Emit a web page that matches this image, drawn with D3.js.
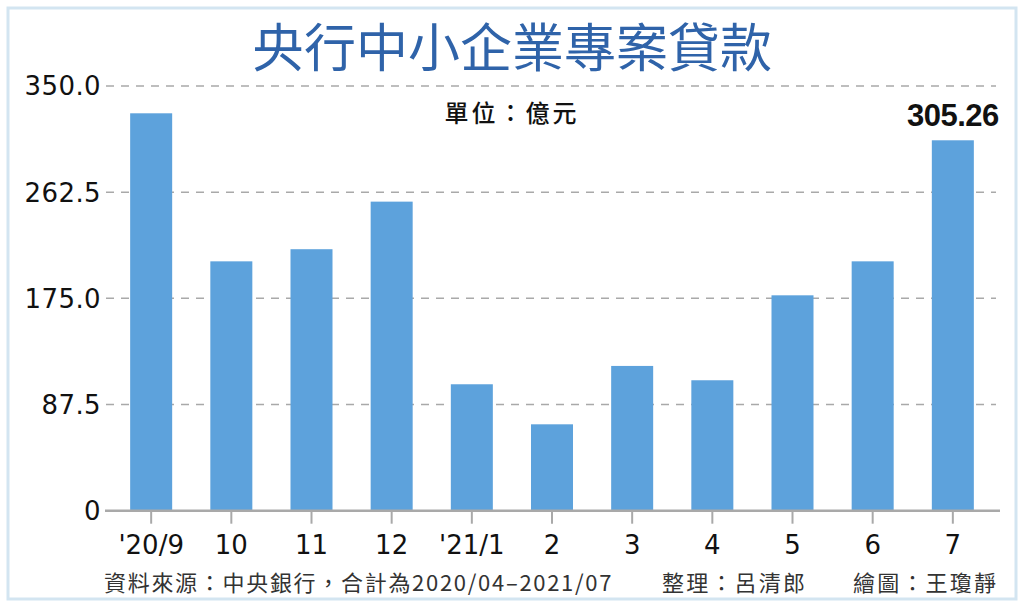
<!DOCTYPE html>
<html>
<head>
<meta charset="utf-8">
<script src="https://cdn.jsdelivr.net/npm/d3@7"></script>
<style>
  html, body { margin: 0; padding: 0; background: #fff; }
  svg { display: block; }
  .num { font-family: "DejaVu Sans", "Liberation Sans", sans-serif; }
  .cjk { font-family: "Noto Sans CJK TC", "Noto Sans CJK SC", sans-serif; }
</style>
</head>
<body>
<div id="chart"></div>
<script>
const months = ["'20/9", "10", "11", "12", "'21/1", "2", "3", "4", "5", "6", "7"]
const loans = [327.5, 205.5, 215.5, 254.7, 104.2, 71.2, 119.3, 107.5, 177.5, 205.5, 305.26]
const yTicks = [0, 87.5, 175, 262.5, 350]
const yTickLabels = ["0", "87.5", "175.0", "262.5", "350.0"]

const W = 1024, H = 607

const svg = d3.select("#chart").append("svg")
    .attr("width", W)
    .attr("height", H)

// outer frame
svg.append("rect")
    .attr("x", 8).attr("y", 8)
    .attr("width", W - 16).attr("height", H - 16)
    .attr("fill", "#fff")
    .attr("stroke", "#d3e5f1")
    .attr("stroke-width", 3)

const xScale = d3.scaleBand()
    .domain(months)
    .range([92, 1012])
    .paddingInner(0.476)
    .paddingOuter(0.476)

const yScale = d3.scaleLinear()
    .domain([0, 350])
    .range([510.7, 86])

// dashed gridlines
svg.append("g")
    .selectAll("line")
    .data(yTicks.filter((d) => d > 0))
    .enter()
    .append("line")
        .attr("x1", 106)
        .attr("x2", 996)
        .attr("y1", (d) => yScale(d))
        .attr("y2", (d) => yScale(d))
        .attr("stroke", "#a9a9a9")
        .attr("stroke-width", 1.5)
        .attr("stroke-dasharray", "8,7")

// y labels
svg.append("g")
    .selectAll("text")
    .data(yTicks)
    .enter()
    .append("text")
        .classed("num", true)
        .attr("x", 101)
        .attr("y", (d) => yScale(d))
        .attr("dy", "0.36em")
        .attr("text-anchor", "end")
        .attr("font-size", 26)
        .attr("letter-spacing", 0.4)
        .attr("fill", "#111")
        .text((d, i) => yTickLabels[i])

// bars
svg.append("g")
    .selectAll("rect")
    .data(loans)
    .enter()
    .append("rect")
        .attr("x", (d, i) => xScale(months[i]))
        .attr("y", (d) => yScale(d))
        .attr("width", xScale.bandwidth())
        .attr("height", (d) => yScale(0) - yScale(d))
        .attr("fill", "#5da2dc")

// x axis via d3 axis
const xAxis = d3.axisBottom(xScale).tickSize(13).tickPadding(12)
const gx = svg.append("g")
    .attr("transform", "translate(0," + yScale(0) + ")")
    .call(xAxis)
gx.select(".domain").remove()
gx.selectAll(".tick line")
    .attr("stroke", "#a9a9a9")
    .attr("stroke-width", 2)
gx.selectAll(".tick text")
    .classed("num", true)
    .attr("font-size", 26)
    .attr("fill", "#111")

svg.append("line")
    .attr("x1", 105).attr("x2", 1000)
    .attr("y1", yScale(0)).attr("y2", yScale(0))
    .attr("stroke", "#a9a9a9")
    .attr("stroke-width", 2.5)

// value label on the last bar
const last = loans.length - 1
svg.append("text")
    .attr("font-family", "Liberation Sans, Arial, sans-serif")
    .attr("x", xScale(months[last]) + xScale.bandwidth() / 2)
    .attr("y", yScale(loans[last]) - 14)
    .attr("text-anchor", "middle")
    .attr("font-size", 31)
    .attr("font-weight", "bold")
    .attr("letter-spacing", -0.5)
    .attr("fill", "#111")
    .text(d3.format(".2f")(loans[last]))

// title
svg.append("text")
    .classed("cjk", true)
    .attr("x", 512)
    .attr("y", 67)
    .attr("text-anchor", "middle")
    .attr("font-size", 52)
    .attr("font-weight", 400)
    .attr("fill", "#2f63a9")
    .text("央行中小企業專案貸款")

svg.append("text")
    .classed("cjk", true)
    .attr("x", 512)
    .attr("y", 122)
    .attr("text-anchor", "middle")
    .attr("font-size", 24)
    .attr("font-weight", 500)
    .attr("letter-spacing", 3)
    .attr("fill", "#111")
    .text("單位：億元")

// footer
const footer = svg.append("g")
    .classed("cjk", true)
    .attr("font-size", 22)
    .attr("fill", "#333")
footer.append("text").attr("x", 104).attr("y", 591)
    .attr("letter-spacing", 1.7)
    .text("資料來源：中央銀行，合計為2020/04–2021/07")
footer.append("text").attr("x", 662).attr("y", 591)
    .attr("letter-spacing", 2.2)
    .text("整理：呂清郎")
footer.append("text").attr("x", 853).attr("y", 591)
    .attr("letter-spacing", 2.2)
    .text("繪圖：王瓊靜")
</script>
</body>
</html>
